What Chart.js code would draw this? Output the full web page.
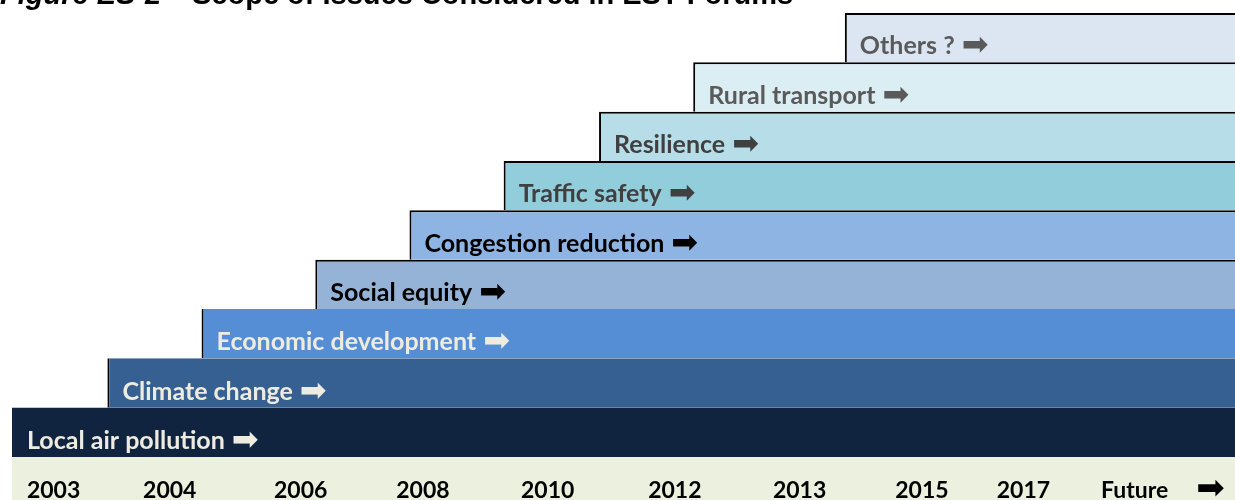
<!DOCTYPE html>
<html>
<head>
<meta charset="utf-8">
<script src="https://cdn.jsdelivr.net/npm/chart.js@4.4.0/dist/chart.umd.min.js"></script>
<style>
  html, body { margin: 0; padding: 0; background: #fff; }
  #wrap { width: 1235px; height: 500px; position: relative; }
</style>
</head>
<body>
<div id="wrap"><canvas id="scope"></canvas></div>
<script>
// issues, top row first
const issues = [
  "Others ?",
  "Rural transport",
  "Resilience",
  "Traffic safety",
  "Congestion reduction",
  "Social equity",
  "Economic development",
  "Climate change",
  "Local air pollution",
]

// where each issue enters the timeline (0 = 2003 start, 100 = right edge)
const issueStart = [68.1, 55.7, 48.0, 40.2, 32.5, 24.8, 15.5, 7.8, 0]
const timelineEnd = 100

// timeline labels along the bottom band
const ARROW = "➡"
const yearLabels = ["2003", "2004", "2006", "2008", "2010", "2012", "2013", "2015", "2017", "Future", ARROW]
const yearPos = [3.4, 12.9, 23.6, 33.6, 43.8, 54.2, 64.4, 74.4, 82.7, 91.8, 98.0]

const barColors = [
  "#dce6f2", "#dbeef4", "#b7dee8", "#92cddc", "#8eb4e3",
  "#95b3d7", "#558ed5", "#376092", "#10243f",
]
const textColors = [
  "#5a5a5a", "#5a5a5a", "#404040", "#404040", "#000000",
  "#000000", "#eeece1", "#eeece1", "#eeece1",
]

const FONT = "Lato, 'DejaVu Sans', sans-serif"
const ARROW_FONT = "32px 'DejaVu Sans'"

/**
 * light green band behind the year labels
 */
const bandPlugin = {
  id: "band",
  beforeDraw(chart) {
    const { ctx, chartArea } = chart
    ctx.save()
    ctx.fillStyle = "#ebf1de"
    ctx.fillRect(chartArea.left, chartArea.bottom, chart.width - chartArea.left, chart.height - chartArea.bottom)
    ctx.restore()
  },
}

/**
 * issue names written inside each step, followed by a heavy arrow
 */
const stepLabels = {
  id: "stepLabels",
  afterDatasetsDraw(chart) {
    const { ctx } = chart
    const meta = chart.getDatasetMeta(0)
    ctx.save()
    ctx.textAlign = "left"
    ctx.textBaseline = "alphabetic"
    meta.data.forEach((bar, i) => {
      const left = Math.min(bar.x, bar.base) + 15
      const baseline = bar.y + bar.height / 2 - 8
      ctx.fillStyle = textColors[i]
      ctx.font = "bold 25px " + FONT
      ctx.fillText(issues[i], left, baseline)
      const w = ctx.measureText(issues[i]).width
      ctx.font = ARROW_FONT
      ctx.fillText(ARROW, left + w + 7, baseline + 1)
    })
    ctx.restore()
  },
}

/**
 * figure caption, cut off at the top as in the source
 */
const caption = {
  id: "caption",
  afterDraw(chart) {
    const { ctx } = chart
    ctx.save()
    ctx.fillStyle = "#000"
    ctx.textBaseline = "alphabetic"
    ctx.font = "italic bold 29px 'Liberation Sans', Arial, sans-serif"
    ctx.fillText("Figure ES-2", 0, 4)
    ctx.font = "bold 29px 'Liberation Sans', Arial, sans-serif"
    ctx.fillText("Scope of Issues Considered in EST Forums", 192, 4)
    ctx.restore()
  },
}

const ctx = document.getElementById("scope").getContext("2d")

new Chart(ctx, {
  type: "bar",
  data: {
    labels: issues,
    datasets: [
      {
        data: issueStart.map((s) => [s, timelineEnd]),
        backgroundColor: barColors,
        borderColor: "#000",
        borderSkipped: false,
        borderWidth: (c) => {
          const i = c.dataIndex
          if (i < 6) return { top: 2, left: 2, right: 0, bottom: 0 }
          if (i < 8) return { top: 0, left: 2, right: 0, bottom: 0 }
          return 0
        },
        barPercentage: 1,
        categoryPercentage: 1,
        inflateAmount: 0,
      },
    ],
  },
  options: {
    indexAxis: "y",
    responsive: true,
    maintainAspectRatio: false,
    animation: false,
    layout: { padding: { top: 13, left: 12, right: 0, bottom: 0 } },
    plugins: {
      legend: { display: false },
      tooltip: { enabled: false },
    },
    scales: {
      y: { display: false },
      x: {
        min: 0,
        max: 100,
        grid: { display: false, drawTicks: false },
        border: { display: false },
        afterFit: (axis) => {
          axis.height = 43
          axis.paddingLeft = 0
          axis.paddingRight = 0
        },
        afterBuildTicks: (axis) => { axis.ticks = yearPos.map((v) => ({ value: v })) },
        ticks: {
          autoSkip: false,
          maxRotation: 0,
          padding: 20,
          color: "#000",
          font: (c) => c.index === yearLabels.length - 1
            ? { family: "'DejaVu Sans'", size: 34, weight: "normal", lineHeight: 0.75 }
            : { family: FONT, size: 23, weight: "bold" },
          callback: (v, i) => yearLabels[i],
        },
      },
    },
  },
  plugins: [bandPlugin, stepLabels, caption],
})
</script>
</body>
</html>
